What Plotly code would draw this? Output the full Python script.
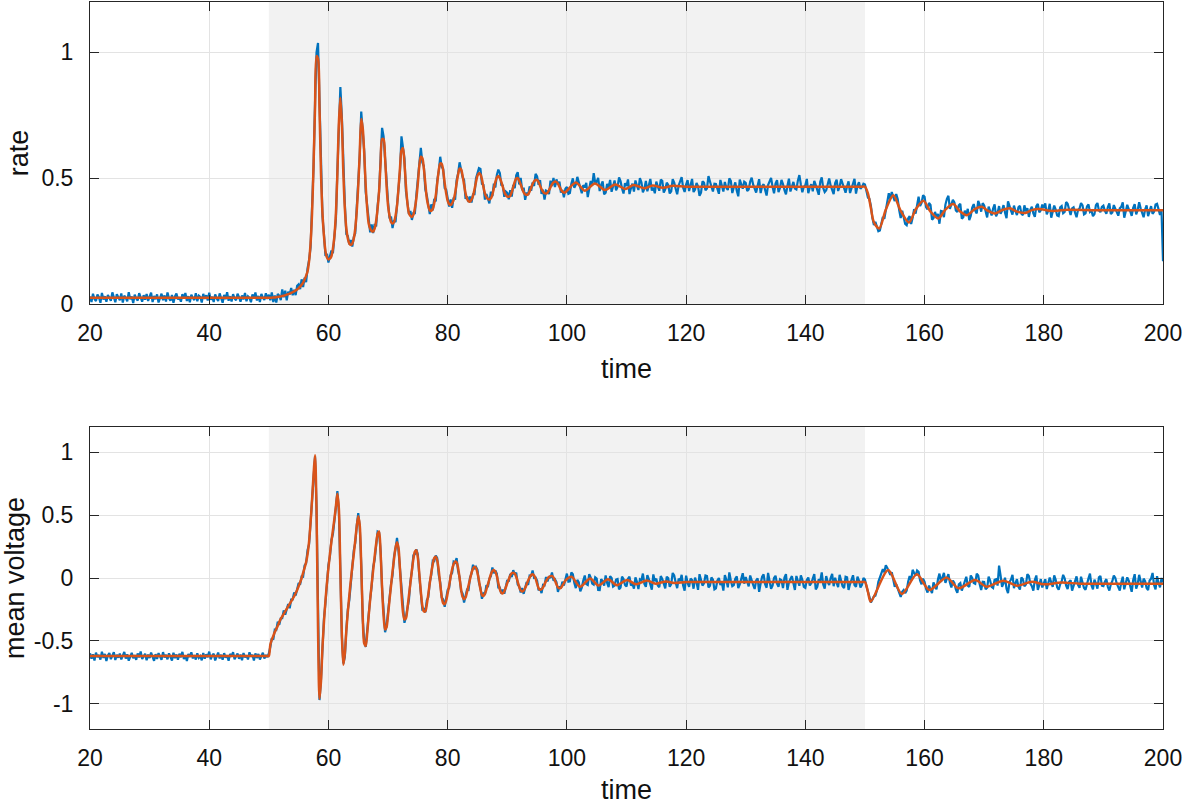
import numpy as np
import plotly.graph_objects as go

# ---------------- data ----------------
# blue (raw) samples every 0.25 time units: 20..49.75, 50..99.75, 100..200
rate_pre = [
    0.030, 0.008, 0.041, 0.020, 0.012, 0.038, 0.027, 0.005, 0.044, 0.018, 0.031, 0.009, 0.036, 0.024, 0.013, 0.046, 0.021, 0.007, 0.039, 0.028,
    0.015, 0.042, 0.006, 0.033, 0.025, 0.011, 0.047, 0.019, 0.030, 0.004, 0.037, 0.022, 0.014, 0.043, 0.026, 0.009, 0.035, 0.017, 0.040, 0.012,
    0.029, 0.045, 0.008, 0.032, 0.019, 0.038, 0.006, 0.027, 0.041, 0.015, 0.034, 0.010, 0.046, 0.023, 0.013, 0.036, 0.005, 0.030, 0.042, 0.018,
    0.026, 0.009, 0.039, 0.021, 0.044, 0.012, 0.031, 0.007, 0.037, 0.024, 0.016, 0.043, 0.011, 0.033, 0.028, 0.006, 0.040, 0.020, 0.035, 0.014,
    0.045, 0.017, 0.029, 0.008, 0.038, 0.023, 0.012, 0.042, 0.026, 0.005, 0.036, 0.019, 0.047, 0.013, 0.031, 0.010, 0.039, 0.022, 0.015, 0.041,
    0.027, 0.009, 0.034, 0.018, 0.044, 0.011, 0.030, 0.024, 0.007, 0.038, 0.021, 0.046, 0.014, 0.032, 0.008, 0.040, 0.025, 0.016, 0.043, 0.020]
rate_mid = [
    0.037, 0.015, 0.046, 0.008, 0.034, 0.006, 0.040, 0.033, 0.015, 0.058, 0.027, 0.053, 0.015, 0.049, 0.038, 0.064, 0.035, 0.056, 0.035, 0.072,
    0.078, 0.059, 0.098, 0.067, 0.105, 0.087, 0.142, 0.174, 0.225, 0.386, 0.544, 0.798, 1.000, 1.037, 0.777, 0.540, 0.348, 0.276, 0.191, 0.199,
    0.165, 0.190, 0.212, 0.202, 0.278, 0.335, 0.532, 0.724, 0.862, 0.746, 0.514, 0.398, 0.278, 0.270, 0.237, 0.254, 0.228, 0.266, 0.281, 0.384,
    0.485, 0.590, 0.765, 0.692, 0.608, 0.445, 0.392, 0.324, 0.285, 0.316, 0.282, 0.318, 0.308, 0.390, 0.447, 0.580, 0.700, 0.666, 0.561, 0.484,
    0.405, 0.340, 0.347, 0.302, 0.333, 0.325, 0.402, 0.464, 0.525, 0.666, 0.614, 0.578, 0.448, 0.410, 0.357, 0.370, 0.334, 0.361, 0.361, 0.434,
    0.495, 0.540, 0.620, 0.562, 0.548, 0.455, 0.432, 0.394, 0.357, 0.396, 0.372, 0.418, 0.408, 0.490, 0.527, 0.585, 0.545, 0.536, 0.461, 0.454,
    0.425, 0.387, 0.415, 0.382, 0.423, 0.415, 0.492, 0.519, 0.563, 0.529, 0.504, 0.493, 0.418, 0.428, 0.405, 0.427, 0.403, 0.436, 0.436, 0.499,
    0.525, 0.540, 0.537, 0.477, 0.473, 0.415, 0.437, 0.421, 0.400, 0.446, 0.429, 0.478, 0.463, 0.513, 0.534, 0.520, 0.473, 0.471, 0.426, 0.447,
    0.442, 0.416, 0.452, 0.427, 0.473, 0.460, 0.511, 0.524, 0.475, 0.501, 0.452, 0.462, 0.414, 0.443, 0.433, 0.467, 0.450, 0.483, 0.469, 0.517,
    0.507, 0.474, 0.492, 0.438, 0.454, 0.415, 0.451, 0.447, 0.437, 0.490, 0.469, 0.501, 0.465, 0.495, 0.475, 0.486, 0.443, 0.453, 0.424, 0.458]
rate_post = [
    0.465, 0.438, 0.441, 0.478, 0.499, 0.462, 0.474, 0.505, 0.483, 0.451, 0.440, 0.472, 0.463, 0.481, 0.425, 0.458, 0.489, 0.470, 0.520, 0.482,
    0.486, 0.501, 0.449, 0.473, 0.487, 0.436, 0.442, 0.477, 0.462, 0.493, 0.446, 0.468, 0.491, 0.452, 0.465, 0.503, 0.488, 0.459, 0.439, 0.480,
    0.469, 0.495, 0.437, 0.460, 0.478, 0.447, 0.491, 0.470, 0.453, 0.500, 0.484, 0.444, 0.458, 0.489, 0.448, 0.472, 0.497, 0.451, 0.463, 0.440,
    0.486, 0.467, 0.450, 0.494, 0.489, 0.443, 0.455, 0.482, 0.473, 0.439, 0.448, 0.496, 0.482, 0.458, 0.436, 0.471, 0.487, 0.504, 0.462, 0.445,
    0.475, 0.492, 0.449, 0.470, 0.497, 0.445, 0.455, 0.481, 0.468, 0.430, 0.442, 0.487, 0.482, 0.452, 0.459, 0.508, 0.491, 0.466, 0.447, 0.478,
    0.477, 0.455, 0.438, 0.493, 0.472, 0.447, 0.485, 0.462, 0.453, 0.499, 0.489, 0.441, 0.464, 0.483, 0.450, 0.428, 0.494, 0.470, 0.458, 0.486,
    0.481, 0.449, 0.455, 0.487, 0.502, 0.474, 0.460, 0.443, 0.470, 0.496, 0.441, 0.468, 0.476, 0.452, 0.431, 0.473, 0.488, 0.501, 0.466, 0.440,
    0.479, 0.492, 0.445, 0.461, 0.493, 0.477, 0.452, 0.436, 0.470, 0.498, 0.447, 0.468, 0.485, 0.459, 0.455, 0.490, 0.512, 0.475, 0.444, 0.466,
    0.472, 0.497, 0.440, 0.463, 0.476, 0.448, 0.489, 0.472, 0.450, 0.434, 0.486, 0.503, 0.461, 0.445, 0.452, 0.478, 0.499, 0.470, 0.455, 0.437,
    0.481, 0.494, 0.449, 0.466, 0.496, 0.475, 0.460, 0.442, 0.468, 0.487, 0.441, 0.459, 0.483, 0.497, 0.439, 0.470, 0.484, 0.458, 0.465, 0.478,
    0.475, 0.446, 0.423, 0.418, 0.390, 0.342, 0.314, 0.326, 0.304, 0.289, 0.292, 0.325, 0.346, 0.338, 0.368, 0.410, 0.440, 0.418, 0.445, 0.426,
    0.409, 0.437, 0.416, 0.372, 0.342, 0.371, 0.346, 0.318, 0.313, 0.340, 0.349, 0.318, 0.343, 0.377, 0.359, 0.401, 0.426, 0.389, 0.402, 0.432,
    0.426, 0.385, 0.376, 0.401, 0.394, 0.335, 0.341, 0.366, 0.346, 0.358, 0.319, 0.370, 0.368, 0.345, 0.395, 0.418, 0.430, 0.378, 0.393, 0.414,
    0.404, 0.372, 0.366, 0.392, 0.398, 0.339, 0.345, 0.371, 0.355, 0.378, 0.333, 0.350, 0.383, 0.397, 0.371, 0.360, 0.410, 0.394, 0.367, 0.401,
    0.392, 0.365, 0.344, 0.387, 0.370, 0.352, 0.379, 0.396, 0.348, 0.362, 0.389, 0.358, 0.371, 0.393, 0.363, 0.341, 0.408, 0.384, 0.371, 0.355,
    0.391, 0.369, 0.353, 0.384, 0.390, 0.359, 0.353, 0.392, 0.368, 0.381, 0.346, 0.375, 0.386, 0.360, 0.346, 0.389, 0.398, 0.364, 0.372, 0.395,
    0.382, 0.400, 0.356, 0.371, 0.398, 0.343, 0.362, 0.391, 0.375, 0.352, 0.349, 0.384, 0.389, 0.361, 0.366, 0.405, 0.398, 0.371, 0.354, 0.380,
    0.384, 0.363, 0.345, 0.374, 0.379, 0.401, 0.392, 0.356, 0.360, 0.388, 0.396, 0.366, 0.371, 0.349, 0.357, 0.393, 0.401, 0.372, 0.365, 0.386,
    0.391, 0.370, 0.359, 0.385, 0.400, 0.357, 0.364, 0.393, 0.378, 0.362, 0.351, 0.380, 0.386, 0.404, 0.343, 0.368, 0.394, 0.377, 0.369, 0.350,
    0.382, 0.397, 0.356, 0.373, 0.404, 0.380, 0.362, 0.345, 0.375, 0.392, 0.349, 0.371, 0.389, 0.358, 0.366, 0.395, 0.398, 0.377, 0.354, 0.372,
    0.170]

volt_pre = [
    -0.598, -0.641, -0.607, -0.655, -0.593, -0.628, -0.612, -0.648, -0.586, -0.635, -0.604, -0.660, -0.615, -0.596, -0.645, -0.622, -0.590, -0.652, -0.610, -0.633,
    -0.601, -0.647, -0.619, -0.588, -0.640, -0.606, -0.657, -0.625, -0.595, -0.638, -0.613, -0.650, -0.600, -0.631, -0.584, -0.644, -0.618, -0.603, -0.653, -0.609,
    -0.636, -0.592, -0.626, -0.658, -0.605, -0.643, -0.597, -0.620, -0.651, -0.589, -0.632, -0.611, -0.646, -0.599, -0.624, -0.656, -0.594, -0.637, -0.608, -0.649,
    -0.602, -0.630, -0.587, -0.644, -0.616, -0.659, -0.604, -0.627, -0.591, -0.639, -0.613, -0.648, -0.598, -0.634, -0.621, -0.654, -0.596, -0.641, -0.606, -0.629,
    -0.585, -0.646, -0.617, -0.601, -0.655, -0.623, -0.593, -0.639, -0.610, -0.650, -0.597, -0.632, -0.614, -0.657, -0.603, -0.626, -0.589, -0.645, -0.619, -0.600,
    -0.642, -0.608, -0.653, -0.596, -0.631, -0.615, -0.647, -0.590, -0.625, -0.611, -0.656, -0.599, -0.636, -0.604, -0.648, -0.618, -0.594, -0.640, -0.612, -0.629]
volt_mid = [
    -0.600, -0.548, -0.478, -0.490, -0.410, -0.413, -0.347, -0.372, -0.320, -0.320, -0.257, -0.291, -0.235, -0.207, -0.240, -0.171, -0.170, -0.115, -0.140, -0.087,
    -0.040, -0.053, 0.012, 0.010, 0.100, 0.117, 0.223, 0.268, 0.445, 0.605, 0.848, 0.965, 0.560, -0.382, -0.970, -0.806, -0.555, -0.320, -0.200, -0.032,
    0.105, 0.172, 0.302, 0.350, 0.490, 0.562, 0.690, 0.528, 0.055, -0.465, -0.680, -0.626, -0.410, -0.252, -0.175, -0.006, 0.085, 0.220, 0.280, 0.418,
    0.515, 0.402, 0.112, -0.330, -0.500, -0.548, -0.407, -0.322, -0.165, -0.065, 0.088, 0.144, 0.280, 0.368, 0.360, 0.214, -0.085, -0.270, -0.430, -0.382,
    -0.265, -0.188, -0.048, 0.020, 0.170, 0.232, 0.318, 0.218, 0.075, -0.135, -0.242, -0.356, -0.310, -0.222, -0.175, -0.026, 0.055, 0.180, 0.190, 0.228,
    0.185, 0.012, -0.098, -0.250, -0.245, -0.273, -0.177, -0.152, -0.035, 0.025, 0.138, 0.134, 0.179, 0.158, 0.025, -0.036, -0.155, -0.170, -0.228, -0.172,
    -0.095, -0.078, 0.022, 0.040, 0.130, 0.122, 0.158, 0.058, 0.005, -0.105, -0.122, -0.195, -0.145, -0.092, -0.095, 0.004, 0.035, 0.105, 0.070, 0.088,
    0.065, -0.038, -0.078, -0.165, -0.123, -0.133, -0.057, -0.072, -0.005, 0.015, 0.083, 0.037, 0.060, 0.033, -0.075, -0.076, -0.123, -0.092, -0.125, -0.067,
    -0.015, -0.028, 0.032, 0.007, 0.062, 0.027, 0.043, -0.052, -0.065, -0.115, -0.080, -0.126, -0.070, -0.032, -0.055, 0.019, 0.017, 0.059, 0.000, 0.003,
    -0.020, -0.098, -0.082, -0.120, -0.055, -0.058, 0.008, -0.027, 0.013, 0.000, 0.044, -0.021, -0.010, -0.032, -0.110, -0.068, -0.082, -0.030, -0.060, -0.012]
volt_post = [
    0.035, -0.030, -0.027, 0.045, 0.030, -0.040, -0.080, -0.015, -0.035, -0.105, -0.077, -0.020, 0.020, -0.048, -0.055, 0.030, 0.004, -0.045, -0.053, 0.005,
    -0.005, -0.095, -0.096, -0.010, -0.025, -0.060, 0.020, -0.040, -0.073, 0.015, 0.000, -0.068, -0.060, -0.012, -0.008, -0.090, -0.075, 0.010, -0.007, -0.055,
    -0.067, -0.005, 0.010, -0.060, -0.045, -0.085, 0.005, -0.030, -0.088, -0.010, -0.018, 0.035, -0.047, -0.070, 0.023, -0.010, -0.048, -0.092, 0.028, -0.025,
    -0.005, -0.060, -0.073, 0.015, -0.008, -0.050, -0.082, 0.010, 0.000, -0.070, -0.049, 0.040, 0.020, -0.035, -0.081, -0.005, -0.024, 0.025, -0.060, -0.100,
    0.018, -0.040, -0.070, -0.005, -0.017, -0.085, 0.003, -0.035, -0.094, 0.030, -0.007, -0.060, -0.042, 0.020, 0.016, -0.075, -0.062, 0.005, -0.014, -0.090,
    -0.082, -0.020, 0.000, -0.055, -0.037, -0.100, 0.023, -0.015, -0.074, 0.045, -0.020, -0.065, -0.057, -0.005, 0.012, -0.080, -0.050, -0.010, 0.038, -0.045,
    0.008, -0.030, -0.067, 0.020, -0.010, -0.055, -0.087, -0.020, -0.002, -0.110, -0.044, 0.010, 0.028, -0.050, -0.077, 0.040, -0.024, -0.085, -0.060, 0.000,
    0.018, -0.045, -0.070, -0.010, -0.017, -0.080, 0.003, 0.030, -0.094, -0.035, -0.007, 0.015, -0.042, -0.095, 0.016, -0.025, -0.062, 0.020, -0.014, -0.070,
    -0.078, -0.015, 0.004, -0.060, -0.040, -0.005, 0.030, -0.090, -0.070, -0.010, -0.025, 0.045, -0.052, -0.085, 0.015, -0.030, -0.055, 0.000, 0.032, -0.065,
    0.002, -0.040, -0.072, 0.025, -0.012, -0.065, -0.080, 0.010, 0.005, -0.095, -0.048, -0.015, 0.022, -0.055, -0.070, 0.010, -0.020, -0.075, -0.055, 0.000,
    -0.012, -0.065, -0.120, -0.150, -0.195, -0.170, -0.145, -0.140, -0.100, -0.030, 0.010, 0.035, 0.070, 0.045, 0.102, 0.080, 0.050, 0.025, 0.045, -0.020,
    -0.070, -0.050, -0.090, -0.130, -0.150, -0.110, -0.095, -0.120, -0.100, -0.030, 0.015, -0.020, 0.065, 0.040, 0.018, 0.060, 0.050, -0.020, -0.050, -0.005,
    -0.030, -0.085, -0.115, -0.060, -0.084, -0.120, -0.035, -0.070, -0.090, -0.010, 0.035, -0.030, 0.010, 0.040, -0.038, -0.010, 0.030, -0.035, -0.075, -0.020,
    -0.040, -0.090, -0.118, -0.050, -0.040, -0.100, -0.065, -0.020, 0.010, -0.060, -0.070, 0.020, 0.000, -0.040, -0.046, 0.035, 0.020, -0.050, -0.095, -0.030,
    -0.032, -0.090, -0.078, 0.010, -0.020, -0.070, -0.080, -0.015, -0.010, -0.060, 0.098, 0.020, -0.071, -0.040, 0.002, -0.085, -0.120, -0.030, -0.012, 0.025,
    -0.080, -0.040, -0.010, -0.070, -0.092, 0.005, -0.010, -0.065, -0.052, 0.030, 0.016, -0.045, -0.065, -0.100, -0.016, 0.020, -0.094, -0.055, -0.009, -0.075,
    -0.040, -0.010, -0.088, -0.045, 0.004, -0.035, -0.070, 0.020, -0.014, -0.075, -0.093, -0.050, -0.027, 0.025, -0.002, -0.060, -0.087, -0.030, -0.017, -0.100,
    -0.062, -0.020, 0.013, -0.055, -0.078, 0.010, -0.033, -0.080, -0.093, -0.040, -0.003, 0.035, -0.058, -0.090, -0.013, -0.045, -0.084, 0.005, 0.016, -0.060,
    -0.064, -0.030, -0.009, -0.070, -0.099, -0.050, -0.024, 0.020, 0.000, -0.045, -0.075, -0.100, -0.035, 0.010, -0.090, -0.040, 0.005, -0.020, -0.065, -0.110,
    -0.015, 0.030, -0.085, -0.050, 0.025, -0.030, -0.075, -0.005, -0.025, -0.080, -0.095, -0.020, -0.005, 0.040, -0.055, -0.090, 0.015, -0.040, -0.075, 0.000,
    -0.035]

# orange (smoothed) curve: flat start, samples 50..99.75 step 0.25, then key points
rate_smooth_start_t = [20.0, 30.0, 40.0, 45.0, 48.0, 49.0, 49.5, 49.75]
rate_smooth_start = [0.025, 0.025, 0.025, 0.025, 0.025, 0.025, 0.025, 0.025]
rate_smooth_mid = [
    0.025, 0.025, 0.025, 0.026, 0.026, 0.027, 0.028, 0.029, 0.030, 0.032, 0.033, 0.035, 0.037, 0.039, 0.041, 0.044, 0.047, 0.050, 0.054, 0.058,
    0.063, 0.069, 0.076, 0.085, 0.097, 0.112, 0.130, 0.170, 0.240, 0.360, 0.550, 0.780, 0.985, 0.975, 0.780, 0.520, 0.360, 0.270, 0.210, 0.185,
    0.177, 0.180, 0.190, 0.220, 0.270, 0.360, 0.520, 0.720, 0.820, 0.720, 0.520, 0.380, 0.300, 0.260, 0.240, 0.234, 0.240, 0.260, 0.300, 0.370,
    0.470, 0.600, 0.735, 0.700, 0.600, 0.470, 0.380, 0.320, 0.300, 0.290, 0.288, 0.300, 0.330, 0.380, 0.450, 0.560, 0.655, 0.655, 0.580, 0.470,
    0.390, 0.350, 0.325, 0.320, 0.325, 0.350, 0.390, 0.460, 0.540, 0.610, 0.620, 0.560, 0.470, 0.400, 0.360, 0.350, 0.346, 0.355, 0.380, 0.420,
    0.480, 0.550, 0.585, 0.580, 0.540, 0.480, 0.420, 0.390, 0.372, 0.370, 0.378, 0.400, 0.430, 0.480, 0.530, 0.558, 0.557, 0.530, 0.480, 0.440,
    0.410, 0.397, 0.393, 0.400, 0.415, 0.440, 0.480, 0.515, 0.538, 0.535, 0.510, 0.475, 0.440, 0.418, 0.408, 0.407, 0.415, 0.430, 0.455, 0.485,
    0.510, 0.520, 0.515, 0.495, 0.465, 0.440, 0.425, 0.417, 0.415, 0.420, 0.435, 0.460, 0.485, 0.503, 0.509, 0.500, 0.485, 0.465, 0.445, 0.433,
    0.427, 0.426, 0.430, 0.445, 0.465, 0.485, 0.499, 0.500, 0.490, 0.475, 0.458, 0.444, 0.436, 0.433, 0.436, 0.447, 0.462, 0.477, 0.488, 0.493,
    0.492, 0.484, 0.470, 0.456, 0.446, 0.440, 0.439, 0.443, 0.452, 0.464, 0.475, 0.483, 0.487, 0.485, 0.478, 0.466, 0.455, 0.447, 0.443, 0.444]
rate_smooth_end_t = [101.5, 103.0, 104.7, 106.4, 108.1, 109.8, 111.2, 113.0, 114.4, 116.1, 117.8, 120.0, 125.0,
                     130.0, 135.0, 140.0, 145.0, 148.0, 149.5, 150.0,
                     150.5, 151.0, 151.5, 152.4, 153.5, 154.76, 156.0, 157.4, 158.5, 159.8, 161.0, 162.3, 163.5,
                     164.8, 166.0, 167.07, 168.5, 169.6, 170.5, 171.8, 173.0, 174.3, 175.5, 176.9, 178.0, 179.1,
                     181.5, 184.0, 188.0, 192.0, 196.0, 200.0]
rate_smooth_end = [0.483, 0.450, 0.479, 0.453, 0.475, 0.457, 0.473, 0.460, 0.471, 0.462, 0.470, 0.466, 0.466,
                   0.466, 0.466, 0.466, 0.466, 0.466, 0.466, 0.466,
                   0.440, 0.380, 0.325, 0.300, 0.375, 0.432, 0.370, 0.324, 0.375, 0.410, 0.367, 0.340, 0.375,
                   0.397, 0.367, 0.353, 0.378, 0.386, 0.372, 0.360, 0.373, 0.380, 0.367, 0.362, 0.373, 0.377,
                   0.370, 0.374, 0.373, 0.373, 0.373, 0.373]

volt_smooth_start_t = [20.0, 30.0, 40.0, 45.0, 48.0, 49.0, 49.5, 49.75]
volt_smooth_start = [-0.620, -0.620, -0.620, -0.620, -0.620, -0.620, -0.620, -0.620]
volt_smooth_mid = [
    -0.620, -0.530, -0.490, -0.460, -0.430, -0.405, -0.380, -0.350, -0.325, -0.305, -0.285, -0.265, -0.245, -0.225, -0.205, -0.185, -0.165, -0.145, -0.120, -0.095,
    -0.065, -0.035, 0.000, 0.040, 0.080, 0.125, 0.190, 0.290, 0.440, 0.620, 0.820, 0.975, 0.550, -0.400, -0.960, -0.820, -0.550, -0.350, -0.180, -0.040,
    0.080, 0.190, 0.290, 0.380, 0.470, 0.570, 0.670, 0.550, 0.050, -0.450, -0.690, -0.600, -0.420, -0.270, -0.140, -0.020, 0.090, 0.190, 0.300, 0.410,
    0.490, 0.420, 0.100, -0.300, -0.520, -0.540, -0.440, -0.300, -0.170, -0.050, 0.060, 0.170, 0.270, 0.350, 0.370, 0.200, -0.080, -0.300, -0.410, -0.390,
    -0.290, -0.170, -0.060, 0.050, 0.150, 0.240, 0.285, 0.240, 0.070, -0.120, -0.270, -0.330, -0.320, -0.240, -0.140, -0.040, 0.060, 0.150, 0.210, 0.220,
    0.160, 0.030, -0.110, -0.220, -0.265, -0.265, -0.210, -0.130, -0.040, 0.040, 0.110, 0.160, 0.169, 0.140, 0.060, -0.050, -0.150, -0.200, -0.208, -0.180,
    -0.120, -0.060, 0.010, 0.070, 0.110, 0.130, 0.125, 0.080, 0.000, -0.090, -0.150, -0.169, -0.155, -0.110, -0.060, -0.010, 0.040, 0.075, 0.090, 0.080,
    0.040, -0.020, -0.090, -0.135, -0.143, -0.125, -0.090, -0.050, -0.010, 0.030, 0.055, 0.063, 0.050, 0.015, -0.040, -0.090, -0.118, -0.122, -0.105, -0.075,
    -0.040, -0.010, 0.020, 0.037, 0.042, 0.035, 0.010, -0.030, -0.070, -0.100, -0.108, -0.100, -0.080, -0.050, -0.020, 0.005, 0.022, 0.029, 0.020, -0.005,
    -0.045, -0.080, -0.094, -0.090, -0.075, -0.050, -0.025, -0.005, 0.008, 0.015, 0.016, 0.005, -0.020, -0.050, -0.075, -0.082, -0.077, -0.060, -0.040, -0.020]
volt_smooth_end_t = [100.8, 102.2, 103.9, 105.3, 106.9, 108.4, 110.1, 111.6, 113.4, 114.9, 116.6, 118.0, 120.0, 125.0,
                     130.0, 135.0, 140.0, 145.0, 148.0, 149.5, 150.0, 150.5,
                     150.96, 153.9, 156.2, 158.7, 160.8, 163.7, 165.7, 168.5, 170.4, 173.2, 175.5, 178.0, 180.0,
                     183.0, 186.0, 190.0, 195.0, 200.0]
volt_smooth_end = [0.010, -0.070, -0.003, -0.060, -0.010, -0.057, -0.016, -0.050, -0.020, -0.045, -0.027, -0.040, -0.032, -0.032,
                   -0.032, -0.032, -0.032, -0.032, -0.032, -0.032, -0.032, -0.110,
                   -0.188, 0.063, -0.127, 0.029, -0.095, 0.003, -0.082, -0.016, -0.069, -0.021, -0.061, -0.029, -0.050,
                   -0.036, -0.045, -0.045, -0.045, -0.045]

x_ticks = [20, 40, 60, 80, 100, 120, 140, 160, 180, 200]
rate_ticks = [0, 0.5, 1]
rate_tick_text = ["0", "0.5", "1"]
volt_ticks = [-1, -0.5, 0, 0.5, 1]
volt_tick_text = ["-1", "-0.5", "0", "0.5", "1"]
stim_window = [50, 150]

# ---------------- time bases ----------------
t_pre = 20 + 0.25 * np.arange(len(rate_pre))
t_mid = 50 + 0.25 * np.arange(len(rate_mid))
t_post = 100 + 0.25 * np.arange(len(rate_post))
t_raw = np.concatenate([t_pre, t_mid, t_post])
rate_raw = np.array(rate_pre + rate_mid + rate_post)
volt_raw = np.array(volt_pre + volt_mid + volt_post)

t_smooth_r = np.concatenate([rate_smooth_start_t, t_mid, rate_smooth_end_t])
rate_smooth = np.array(rate_smooth_start + rate_smooth_mid + rate_smooth_end)
t_smooth_v = np.concatenate([volt_smooth_start_t, t_mid, volt_smooth_end_t])
volt_smooth = np.array(volt_smooth_start + volt_smooth_mid + volt_smooth_end)

BLUE = "#0072BD"
ORANGE = "#D95319"
AX = "#262626"
GRID = "#e3e3e3"
TXT = "#111111"
FONT = "Liberation Sans, Arial, Helvetica, sans-serif"

fig = go.Figure()
fig.add_trace(go.Scatter(x=t_raw, y=rate_raw, mode="lines", line=dict(color=BLUE, width=2.2),
                         xaxis="x", yaxis="y", showlegend=False, hoverinfo="skip"))
fig.add_trace(go.Scatter(x=t_smooth_r, y=rate_smooth, mode="lines",
                         line=dict(color=ORANGE, width=2.5, shape="spline", smoothing=0.8),
                         xaxis="x", yaxis="y", showlegend=False, hoverinfo="skip"))
fig.add_trace(go.Scatter(x=t_raw, y=volt_raw, mode="lines", line=dict(color=BLUE, width=2.2),
                         xaxis="x2", yaxis="y2", showlegend=False, hoverinfo="skip"))
fig.add_trace(go.Scatter(x=t_smooth_v, y=volt_smooth, mode="lines",
                         line=dict(color=ORANGE, width=2.5, shape="spline", smoothing=0.8),
                         xaxis="x2", yaxis="y2", showlegend=False, hoverinfo="skip"))

for xr, yr in (("x", "y"), ("x2", "y2")):
    fig.add_shape(type="rect", xref=xr, yref=yr + " domain", x0=stim_window[0], x1=stim_window[1],
                  y0=0, y1=1, fillcolor="#f2f2f2", line=dict(width=0), layer="below")

xcommon = dict(range=[20, 200], tickvals=x_ticks, ticktext=[str(v) for v in x_ticks],
               ticks="inside", ticklen=9, tickwidth=1, tickcolor=AX,
               showline=True, linecolor=AX, linewidth=1, mirror="ticks",
               showgrid=True, gridcolor=GRID, gridwidth=1, zeroline=False,
               tickfont=dict(family=FONT, size=23, color=TXT), ticklabelstandoff=8,
               title=dict(text="time", font=dict(family=FONT, size=27, color=TXT), standoff=14))
ycommon = dict(ticks="inside", ticklen=9, tickwidth=1, tickcolor=AX,
               showline=True, linecolor=AX, linewidth=1, mirror="ticks",
               showgrid=True, gridcolor=GRID, gridwidth=1, zeroline=False,
               tickfont=dict(family=FONT, size=23, color=TXT), ticklabelstandoff=11)

fig.update_layout(
    width=1184, height=805,
    margin=dict(l=90, r=21, t=2, b=76, autoexpand=False),
    paper_bgcolor="white", plot_bgcolor="white",
    xaxis=dict(domain=[0, 1], anchor="y", **xcommon),
    yaxis=dict(domain=[0.5846, 1], anchor="x", range=[0, 1.2], tickvals=rate_ticks, ticktext=rate_tick_text,
               title=dict(text="rate", font=dict(family=FONT, size=27, color=TXT), standoff=4), **ycommon),
    xaxis2=dict(domain=[0, 1], anchor="y2", **xcommon),
    yaxis2=dict(domain=[0, 0.4154], anchor="x2", range=[-1.2, 1.2], tickvals=volt_ticks, ticktext=volt_tick_text,
                title=dict(text="mean voltage", font=dict(family=FONT, size=27, color=TXT), standoff=6), **ycommon),
)

fig.write_html("out.html", config={"displayModeBar": False},
               post_script="document.body.style.margin='0';")
